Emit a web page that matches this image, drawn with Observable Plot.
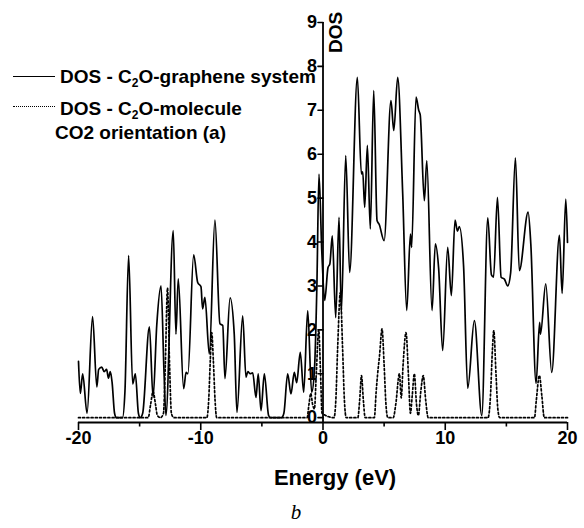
<!DOCTYPE html>
<html>
<head>
<meta charset="utf-8">
<script src="https://cdn.jsdelivr.net/npm/d3@7"></script>
<script src="https://cdn.jsdelivr.net/npm/@observablehq/plot@0.6"></script>
<style>
  body { margin: 0; background: #fff; }
  #wrap { position: relative; width: 584px; height: 528px; background: #fff; }
  .leg { position: absolute; font-family: "Liberation Sans", Arial, sans-serif; font-weight: bold; font-size: 19px; line-height: 19px; color: #000; white-space: nowrap; }
  .leg sub { font-size: 12px; line-height: 0; vertical-align: -4px; }
  .swatch { position: absolute; left: 13px; width: 42px; height: 0; }
</style>
</head>
<body>
<div id="wrap">
  <div class="swatch" style="top:76px;border-top:1.5px solid #000;"></div>
  <div class="leg" style="left:60px;top:67px;">DOS - C<sub>2</sub>O-graphene system</div>
  <div class="swatch" style="top:106px;border-top:1.5px dotted #000;"></div>
  <div class="leg" style="left:60px;top:99px;">DOS - C<sub>2</sub>O-molecule</div>
  <div class="leg" style="left:55px;top:123px;">CO2 orientation (a)</div>
</div>
<script>
// C2O-graphene system DOS (solid)
const systemEnergy = [-20.0,-19.85,-19.66,-19.3,-18.85,-18.5,-18.35,-18.1,-17.9,-17.7,-17.55,-17.4,-17.25,-17.05,-16.9,-16.4,-16.2,-15.9,-15.57,-15.35,-15.1,-14.95,-14.75,-14.2,-13.9,-13.6,-13.25,-13.0,-12.85,-12.25,-12.03,-11.84,-11.4,-11.2,-11.05,-10.58,-10.25,-9.98,-9.85,-9.66,-9.3,-8.84,-8.43,-8.2,-8.02,-7.6,-7.26,-7.04,-6.57,-6.3,-6.15,-5.95,-5.75,-5.48,-5.3,-5.07,-4.8,-4.45,-4.3,-3.4,-3.2,-2.89,-2.62,-2.35,-2.15,-1.86,-1.58,-1.25,-0.93,-0.71,-0.5,-0.33,-0.1,0.14,0.41,0.56,0.76,1.04,1.31,1.5,1.86,2.18,2.81,3.14,3.25,3.41,3.63,3.87,4.15,4.42,4.6,5.0,5.56,5.79,6.11,6.52,6.85,7.15,7.25,7.61,7.83,7.95,8.29,8.49,8.92,9.19,9.46,9.79,10.2,10.5,10.8,11.0,11.15,11.5,11.84,12.38,12.99,13.48,13.78,13.95,14.27,14.57,14.85,15.11,15.35,15.74,16.06,16.78,17.0,17.43,17.72,17.79,18.22,18.71,19.34,19.56,19.86,20.0];
const systemDos    = [1.28,0.55,1.0,0.1,2.3,0.7,1.1,1.15,1.05,1.1,0.9,1.05,0.8,0.1,0,0,0.6,3.69,0.77,1.0,0.1,0,0.1,2.07,0.46,2.1,3.0,1.0,0.05,4.26,1.9,3.16,0.66,1.03,1.0,3.71,3.08,2.98,2.48,2.74,1.45,4.5,2.14,2.1,0.89,2.73,1.9,0.12,2.32,0.92,1.05,1.0,1.02,0.46,1.0,0.16,1.0,0.05,0,0,0.1,1.0,0.54,1.03,0.8,1.49,0.58,2.44,0.58,1.03,3.0,5.55,3.8,2.67,3.42,3.5,4.14,2.28,4.56,2.4,5.97,3.31,7.75,5.55,5.6,4.79,6.2,4.3,7.45,4.49,4.4,4.03,7.22,6.54,7.75,5.1,2.44,4.18,3.88,7.3,7.0,6.9,4.94,5.85,2.44,3.96,3.4,1.53,3.88,2.78,4.5,4.25,4.35,3.45,0.67,2.21,0.05,4.55,3.25,3.2,5.02,3.2,3.15,3.0,3.3,5.92,3.35,4.68,3.95,0.78,2.17,1.9,3.05,1.03,4.15,2.83,4.98,3.99];

// C2O molecule DOS (dotted)
const moleculeEnergy = [-20,-14.3,-14.1,-13.9,-13.7,-13.55,-13.3,-13.05,-12.9,-12.72,-12.55,-12.4,-12.2,-9.5,-9.35,-9.22,-9.1,-8.97,-8.83,-8.7,-1.3,-1.15,-1.0,-0.85,-0.7,-0.55,-0.35,-0.2,-0.08,0.9,1.05,1.2,1.42,1.6,1.75,1.9,2.85,3.0,3.15,3.3,3.45,4.2,4.35,4.47,4.62,4.83,5.0,5.15,5.3,5.75,5.95,6.25,6.4,6.55,6.79,7.0,7.15,7.3,7.47,7.65,7.8,8.0,8.2,8.4,8.6,13.5,13.7,13.85,13.97,14.15,14.3,14.45,17.3,17.45,17.7,17.9,18.1,20];
const moleculeDos    = [0,0,0.3,0.6,0.3,0.05,0,0.1,1.2,2.95,1.2,0.1,0,0,0.4,1.3,1.94,1.3,0.4,0,0,0.3,0.55,0.3,0.2,1.0,2.0,1.0,0.1,0,0.4,1.6,2.85,1.6,0.4,0,0,0.4,0.96,0.4,0,0,0.6,1.0,1.4,2.02,1.2,0.3,0,0,0.3,1.0,0.45,1.2,1.94,0.9,0.1,0.5,1.0,0.3,0.05,0.6,0.96,0.4,0,0,0.5,1.5,1.98,1.0,0.2,0,0,0.4,0.96,0.5,0,0];

const xTicks = [-20, -10, 0, 10, 20];
const xMinorTicks = [-15, -5, 5, 15];
const yTicks = [0, 1, 2, 3, 4, 5, 6, 7, 8, 9];
const yMin = -0.11, yMax = 9;

const system = systemEnergy.map((e, i) => ({e, v: systemDos[i]}));
const molecule = moleculeEnergy.map((e, i) => ({e, v: moleculeDos[i]}));

const tickLeft = { draw(context, l) { context.moveTo(0, 0); context.lineTo(0, -l); } };

const chart = Plot.plot({
  width: 584,
  height: 528,
  marginLeft: 78,
  marginRight: 17,
  marginTop: 22,
  marginBottom: 106,
  x: {domain: [-20, 20]},
  y: {domain: [yMin, yMax], axis: null},
  style: {fontFamily: "'Liberation Sans', Arial, sans-serif", fontSize: "18px", fontWeight: "bold", color: "#000", background: "transparent"},
  marks: [
    Plot.line(molecule, {x: "e", y: "v", stroke: "#000", strokeWidth: 1.7, strokeDasharray: "2,2.2", curve: "monotone-x"}),
    Plot.line(system, {x: "e", y: "v", stroke: "#000", strokeWidth: 1.7, curve: "monotone-x"}),
    Plot.ruleY([yMin], {stroke: "#000", strokeWidth: 1.8}),
    Plot.ruleX([0], {y1: yMin, y2: yMax, stroke: "#000", strokeWidth: 1.8}),
    Plot.vector(yTicks, {x: 0, y: d => d, length: 5, rotate: -90, anchor: "start", shape: tickLeft, stroke: "#000", strokeWidth: 1.6}),
    Plot.text(yTicks, {x: 0, y: d => d, text: d => String(d), textAnchor: "end", dx: -6, fontSize: 18, fontWeight: "bold", fill: "#000"}),
    Plot.axisX(xTicks, {tickSize: 8, tickPadding: 1, strokeWidth: 1.6, tickFormat: d => String(d), fontSize: 18, fontWeight: "bold", label: null}),
    Plot.axisX(xMinorTicks, {tickSize: 4.5, strokeWidth: 1.6, fill: "none", label: null}),
    Plot.text(["DOS"], {x: 0, y: yMax, rotate: -90, dx: 13, dy: 10, fontSize: 19, fontWeight: "bold", fill: "#000"}),
    Plot.text(["Energy (eV)"], {frameAnchor: "bottom", dx: 12, dy: 62, fontSize: 22, fontWeight: "bold", fill: "#000"}),
    Plot.text(["b"], {frameAnchor: "bottom", dx: -27, dy: 96, fontSize: 21, fontWeight: "normal", fontStyle: "italic", fontFamily: "'Liberation Serif', serif", fill: "#000"})
  ]
});
chart.style.position = "absolute";
chart.style.left = "0";
chart.style.top = "0";
document.getElementById("wrap").prepend(chart);
</script>
</body>
</html>
